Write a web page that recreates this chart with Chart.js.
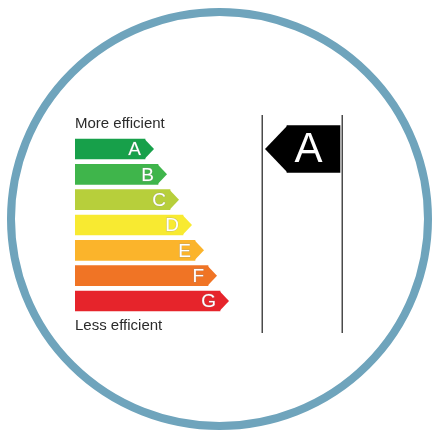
<!DOCTYPE html>
<html>
<head>
<meta charset="utf-8">
<script src="https://cdn.jsdelivr.net/npm/chart.js@4"></script>
<style>
  html, body { margin: 0; padding: 0; background: #fff; }
  #wrap { position: relative; width: 433px; height: 431px; }
</style>
</head>
<body>
<div id="wrap"><canvas id="labelChart"></canvas></div>
<script>
// rows of the label, top to bottom
const categories = ['More efficient', 'A', 'B', 'C', 'D', 'E', 'F', 'G', 'Less efficient']
const barLengths = [null, 70, 83, 95, 108, 120, 133, 145, null]
const barColors = ['#fff', '#17a04a', '#3fb54b', '#b7cf3b', '#f8ea31', '#fbb42b', '#f07425', '#e6242b', '#fff']
const ratedClass = 'A'
const ratedSpan = [212, 265]
const ratingColumn = [187, 267]

const ratingData = categories.map(c => c === ratedClass ? ratedSpan : null)

const ctx = document.getElementById('labelChart').getContext('2d')

const labelPlugin = {
    id: 'labelPlugin',
    beforeDraw(chart) {
        const c = chart.ctx
        c.save()
        c.strokeStyle = '#6fa4bc'
        c.lineWidth = 8
        c.beginPath()
        c.ellipse(219.5, 219, 208.5, 207, 0, 0, Math.PI * 2)
        c.stroke()
        c.restore()
    },
    afterDatasetsDraw(chart) {
        const c = chart.ctx
        const xs = chart.scales.x
        const area = chart.chartArea
        c.save()

        // column frame lines
        c.strokeStyle = '#4a4a4a'
        c.lineWidth = 1.5
        ratingColumn.forEach(v => {
            const px = Math.round(xs.getPixelForValue(v)) + 0.25
            c.beginPath()
            c.moveTo(px, area.top + 4)
            c.lineTo(px, area.bottom - 6)
            c.stroke()
        })

        // coloured arrows
        chart.getDatasetMeta(0).data.forEach((bar, i) => {
            if (barLengths[i] == null) return
            const p = bar.getProps(['x', 'y', 'height'], true)
            const h = p.height / 2
            c.fillStyle = barColors[i]
            c.beginPath()
            c.moveTo(p.x - 0.5, p.y - h)
            c.lineTo(p.x + 9, p.y)
            c.lineTo(p.x - 0.5, p.y + h)
            c.closePath()
            c.fill()

            c.font = '19px "Liberation Sans", Arial, sans-serif'
            c.textAlign = 'right'
            c.textBaseline = 'middle'
            c.lineWidth = 0.8
            c.strokeStyle = 'rgba(150,150,150,0.5)'
            c.strokeText(categories[i], p.x - 4, p.y + 1)
            c.fillStyle = '#fff'
            c.fillText(categories[i], p.x - 4, p.y + 1)
        })

        // black rating arrow
        chart.getDatasetMeta(1).data.forEach((bar, i) => {
            if (ratingData[i] == null) return
            const p = bar.getProps(['x', 'y', 'base', 'height'], true)
            const h = p.height / 2
            c.fillStyle = '#000'
            c.beginPath()
            c.moveTo(p.base + 0.5, p.y - h)
            c.lineTo(p.base - 22, p.y)
            c.lineTo(p.base + 0.5, p.y + h)
            c.closePath()
            c.fill()

            c.font = '42px "Liberation Sans", Arial, sans-serif'
            c.textAlign = 'center'
            c.textBaseline = 'middle'
            c.fillStyle = '#fff'
            c.fillText(categories[i], (p.base + p.x) / 2 - 5, p.y + 1)
        })
        c.restore()
    }
}

const labelChart = new Chart(ctx, {
    type: 'bar',
    data: {
        labels: categories,
        datasets: [{
            data: barLengths,
            backgroundColor: barColors,
            barThickness: 20,
            grouped: false,
            borderWidth: 0
        }, {
            data: ratingData,
            backgroundColor: '#000',
            barThickness: 47,
            grouped: false,
            borderWidth: 0
        }]
    },
    options: {
        indexAxis: 'y',
        responsive: true,
        maintainAspectRatio: false,
        animation: false,
        layout: {
            padding: { left: 75, right: 88, top: 111, bottom: 92 }
        },
        plugins: {
            legend: { display: false },
            tooltip: { enabled: false }
        },
        scales: {
            x: {
                display: false,
                min: 0,
                max: 270
            },
            y: {
                grid: { display: false, drawTicks: false },
                border: { display: false },
                ticks: {
                    mirror: true,
                    padding: 0,
                    autoSkip: false,
                    color: '#2b2b2b',
                    font: { family: '"Liberation Sans", Arial, sans-serif', size: 15 },
                    callback: (value, index) => (barLengths[index] == null ? categories[index] : '')
                }
            }
        }
    },
    plugins: [labelPlugin]
})
</script>
</body>
</html>
